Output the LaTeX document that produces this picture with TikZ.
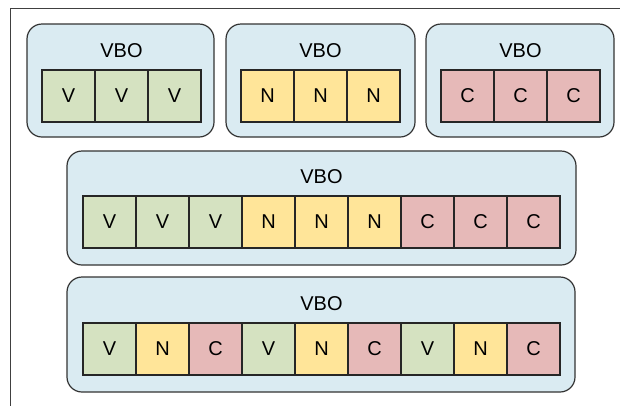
\documentclass[tikz,border=0pt]{standalone}
\usepackage{fontspec}
\setmainfont{Liberation Sans}
\usetikzlibrary{positioning}
\definecolor{vboblue}{HTML}{DAEBF2}
\definecolor{vgreen}{HTML}{D5E2C1}
\definecolor{nyellow}{HTML}{FFE599}
\definecolor{cred}{HTML}{E6B9B8}
\tikzset{
  vbobox/.style={draw=black!80,fill=vboblue,rounded corners=15pt,line width=1.2pt},
  cell/.style={draw=black!85,line width=1.2pt,minimum width=53pt,minimum height=52pt,
    inner sep=0pt,font=\fontsize{20}{20}\selectfont},
  vcell/.style={cell,fill=vgreen},
  ncell/.style={cell,fill=nyellow},
  ccell/.style={cell,fill=cred},
  vbolabel/.style={inner sep=0pt,font=\fontsize{20}{20}\selectfont}
}
\begin{document}
\begin{tikzpicture}[x=1pt,y=-1pt]
\useasboundingbox (0,0) rectangle (620,405);
\draw[black!75,line width=0.8pt] (10,410) |- (625,8);
% separate buffers, one attribute each
\draw[vbobox] (27,24) rectangle (214,137);
\draw[vbobox] (226,24) rectangle (415,137);
\draw[vbobox] (426,24) rectangle (614,137);
\foreach \c/\l [count=\i] in {vcell/V,vcell/V,vcell/V}
  {\node[\c] (a\i) at ({42+26.5+(\i-1)*53},96) {\l};}
\foreach \c/\l [count=\i] in {ncell/N,ncell/N,ncell/N}
  {\node[\c] (b\i) at ({241+26.5+(\i-1)*53},96) {\l};}
\foreach \c/\l [count=\i] in {ccell/C,ccell/C,ccell/C}
  {\node[\c] (c\i) at ({441+26.5+(\i-1)*53},96) {\l};}
\node[vbolabel,above=12pt of a2] (la) {VBO};
\node[vbolabel,above=12pt of b2] (lb) {VBO};
\node[vbolabel,above=12pt of c2] (lc) {VBO};
% one buffer, attributes in blocks
\draw[vbobox] (67,151) rectangle (576,265);
\foreach \c/\l [count=\i] in {vcell/V,vcell/V,vcell/V,ncell/N,ncell/N,ncell/N,ccell/C,ccell/C,ccell/C}
  {\node[\c] (m\i) at ({83+26.5+(\i-1)*53},222) {\l};}
\node[vbolabel,above=12pt of m5] (lm) {VBO};
% one buffer, attributes interleaved
\draw[vbobox] (67,277) rectangle (575,392);
\foreach \c/\l [count=\i] in {vcell/V,ncell/N,ccell/C,vcell/V,ncell/N,ccell/C,vcell/V,ncell/N,ccell/C}
  {\node[\c] (s\i) at ({83+26.5+(\i-1)*53},349) {\l};}
\node[vbolabel,above=12pt of s5] (ls) {VBO};
\end{tikzpicture}
\end{document}
